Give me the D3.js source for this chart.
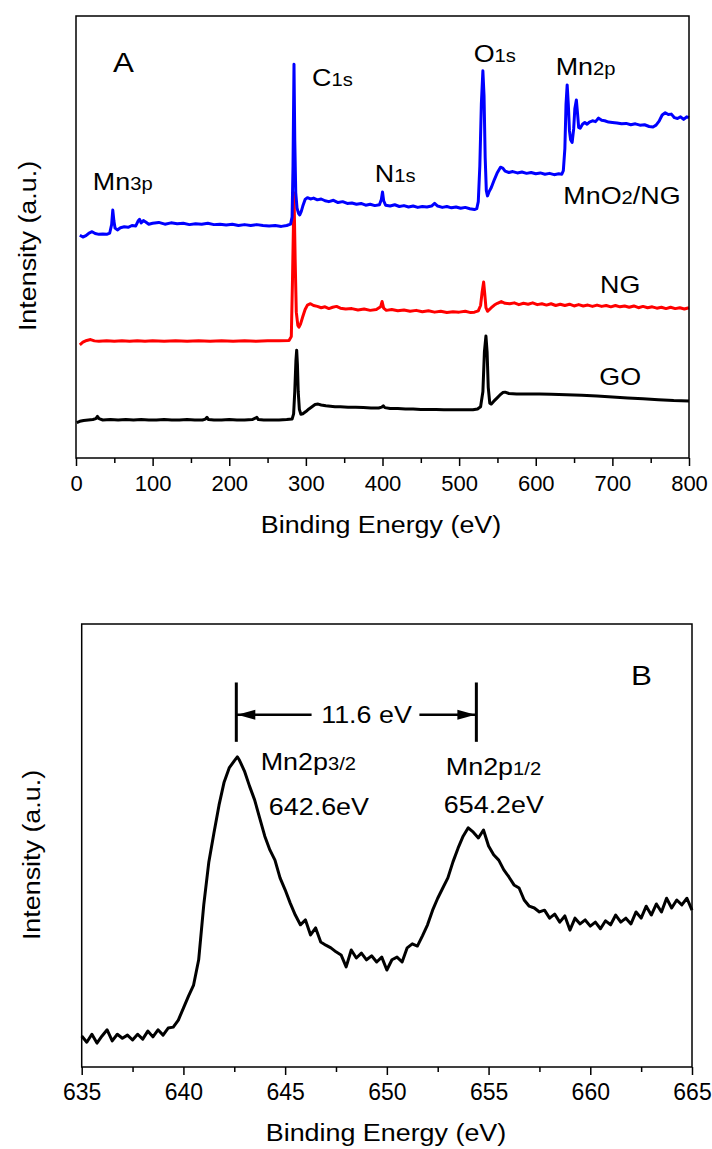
<!DOCTYPE html>
<html>
<head>
<meta charset="utf-8">
<script src="https://cdn.jsdelivr.net/npm/d3@7"></script>
<style>
body { margin: 0; background: #fff; }
text { font-family: "Liberation Sans", Arial, sans-serif; fill: #000; }
</style>
</head>
<body>
<script>
//survey spectra, [binding energy (eV), intensity (a.u.)]
var goSurvey = [[1,8.0],[5,8.3],[10,8.5],[16,8.6],[22,8.7],[26,8.9],[28,9.4],[30,8.9],[35,8.6],[45,8.7],[55,8.6],[65,8.7],[75,8.6],[85,8.7],[95,8.6],[105,8.6],[115,8.7],[125,8.6],[135,8.6],[145,8.7],[155,8.6],[165,8.6],[169,8.8],[171,9.2],[173,8.7],[180,8.6],[190,8.6],[200,8.7],[210,8.6],[220,8.6],[230,8.7],[234,9.0],[236,9.2],[238,8.7],[245,8.6],[255,8.6],[265,8.6],[275,8.7],[282,8.8],[284,10],[285.5,15],[287,22],[288,24.4],[289,21],[290,15],[291.5,11],[293.5,9.9],[296,10.0],[300,10.5],[304,11.1],[308,11.6],[312,12.1],[316,12.2],[320,12.0],[326,11.8],[332,11.7],[338,11.6],[345,11.6],[355,11.5],[365,11.5],[375,11.4],[385,11.3],[395,11.3],[399,11.5],[401,11.8],[403,11.4],[410,11.2],[420,11.2],[430,11.1],[440,11.1],[450,11.0],[460,11.0],[470,11.0],[480,10.9],[490,10.9],[500,10.9],[510,10.9],[518,10.9],[524,11.1],[528,11.6],[531,15],[533,24],[535,27.6],[536.5,24],[538,16],[540,12.4],[542,12.2],[545,12.8],[549,13.5],[553,14.2],[557,14.8],[560,14.9],[565,14.6],[575,14.5],[590,14.5],[605,14.5],[620,14.4],[640,14.3],[660,14.2],[680,14.0],[700,13.8],[720,13.6],[740,13.4],[760,13.2],[780,13.0],[800,12.9]];

var ngSurvey = [[5,25.6],[9,26.2],[14,26.6],[19,26.8],[24,26.5],[30,26.4],[40,26.5],[50,26.4],[60,26.5],[70,26.4],[80,26.5],[90,26.4],[100,26.5],[115,26.4],[130,26.5],[145,26.4],[160,26.5],[175,26.4],[190,26.5],[205,26.4],[220,26.5],[235,26.4],[250,26.5],[265,26.5],[278,26.6],[281,27.5],[282.5,40],[284.5,60],[286,45],[287.5,33],[289.5,30.0],[291,29.6],[293,30.3],[296,32.0],[299,33.6],[302,34.6],[306,34.9],[310,34.5],[315,34.3],[320,34.0],[325,34.2],[330,33.8],[335,34.1],[340,34.3],[345,33.9],[352,33.7],[360,33.8],[368,33.5],[376,33.7],[384,33.4],[392,33.6],[397.5,34.2],[399.5,35.4],[401.5,33.9],[405,33.4],[412,33.6],[420,33.3],[428,33.5],[436,33.2],[444,33.4],[452,33.1],[460,33.3],[468,33.0],[476,33.2],[484,32.9],[492,33.1],[500,33.0],[508,33.2],[515,32.9],[520,33.0],[525,33.3],[528,34.5],[530,37.5],[532,39.8],[533.5,37],[535,34.0],[537,33.2],[539,33.5],[542,34.0],[546,34.6],[550,35.0],[555,35.4],[560,35.0],[566,34.9],[572,35.1],[578,34.7],[584,35.0],[590,34.8],[596,35.1],[602,34.7],[608,34.9],[614,34.6],[620,34.9],[626,34.5],[632,34.8],[638,34.5],[644,34.8],[650,34.4],[656,34.7],[662,34.4],[668,34.6],[674,34.3],[680,34.6],[686,34.3],[692,34.5],[698,34.2],[704,34.5],[710,34.2],[716,34.4],[722,34.1],[728,34.4],[734,34.0],[740,34.3],[746,34.0],[752,34.2],[758,33.9],[764,34.1],[770,33.8],[776,34.1],[782,33.8],[788,34.0],[794,33.7],[800,34.0]];

var mnSurvey = [[5,50.4],[9,50.0],[13,50.3],[17,50.9],[21,51.2],[25,50.8],[30,50.6],[35,50.7],[40,50.6],[44,50.9],[46.5,52.8],[48,56.1],[49.5,53.6],[51,52.0],[54,51.6],[58,52.1],[63,52.3],[68,52.2],[73,52.6],[78,52.5],[81,53.6],[83,54.0],[85,53.2],[88,53.7],[91,53.4],[95,52.9],[100,53.1],[108,53.3],[116,52.9],[124,53.2],[132,53.0],[140,53.1],[148,52.8],[156,53.0],[164,52.9],[172,53.1],[180,52.8],[188,52.9],[196,52.7],[204,52.9],[212,52.6],[220,52.8],[228,52.6],[236,52.8],[244,52.6],[252,52.5],[260,52.6],[268,52.4],[275,52.6],[280,52.9],[282,54.5],[283.2,66],[284.5,89.1],[285.5,72],[286.8,60],[288.5,56.5],[290.5,55.3],[292,55.0],[294,55.8],[296,57.0],[299,58.5],[302,58.9],[306,58.6],[310,58.8],[315,58.4],[320,58.6],[325,58.2],[330,58.0],[336,58.3],[342,57.8],[348,58.0],[354,57.6],[360,57.7],[366,57.4],[372,57.6],[378,57.2],[384,57.4],[390,57.1],[396,57.3],[398.5,58.5],[400,60.2],[401.5,58.2],[404,57.2],[410,57.0],[416,57.3],[422,56.9],[428,57.1],[434,56.8],[440,57.0],[446,56.7],[452,56.9],[458,56.8],[464,57.0],[468,57.6],[472,57.0],[478,56.7],[484,56.9],[490,56.6],[496,56.8],[502,56.5],[508,56.7],[514,56.4],[520,56.2],[523,56.4],[525,58],[527,66],[529,80],[531,87.6],[532.5,82],[534,68],[535.5,60.5],[537,59.3],[539,60.2],[542,61.2],[546,63.0],[550,64.6],[554,65.8],[557,65.6],[560,64.9],[565,64.6],[570,64.8],[576,64.5],[582,64.7],[588,64.4],[594,64.6],[600,64.3],[606,64.5],[612,64.2],[618,64.4],[624,64.1],[630,64.3],[634,64.2],[636,65.0],[638,70],[639.5,80],[641,84.4],[642.5,80],[644,74],[645.5,72],[647.5,71.4],[649.5,74.5],[651,79],[653,81.0],[654.5,78],[656,74.8],[658,74.6],[661,75.5],[664,75.9],[667,75.5],[670,76.0],[674,76.3],[678,76.1],[682,76.9],[686,76.4],[690,76.3],[695,76.0],[700,75.9],[706,75.8],[712,75.6],[718,75.7],[724,75.4],[730,75.6],[736,75.3],[742,75.4],[748,75.0],[753,74.9],[757,75.3],[761,76.2],[765,77.6],[769,78.1],[773,77.7],[777,77.8],[781,77.0],[785,76.8],[789,77.2],[793,76.6],[797,77.2],[800,77.0]];

//high resolution Mn 2p spectrum
var mn2pSpectrum = [[635,7.0],[635.25,5.6],[635.5,7.4],[635.75,5.4],[636,7.0],[636.25,8.4],[636.5,5.9],[636.75,7.4],[637,6.5],[637.25,7.2],[637.5,6.1],[637.75,7.4],[638,6.3],[638.25,8.1],[638.5,6.8],[638.75,8.4],[639,7.2],[639.25,8.8],[639.5,9.0],[639.75,10.6],[640,13.3],[640.25,16.0],[640.5,18.5],[640.75,24.2],[641,36.6],[641.25,46.3],[641.5,52.8],[641.75,59.1],[642,64.3],[642.25,67.5],[642.5,69.1],[642.65,70.0],[642.75,69.3],[643,66.8],[643.25,63.4],[643.5,60.3],[643.75,56.2],[644,52.1],[644.25,49.0],[644.5,46.7],[644.75,42.7],[645,40.0],[645.25,37.0],[645.5,34.3],[645.75,32.1],[646,33.2],[646.25,29.8],[646.5,31.4],[646.75,28.2],[647,27.5],[647.25,26.9],[647.5,26.0],[647.75,25.3],[648,22.6],[648.25,26.4],[648.5,24.6],[648.75,25.7],[649,24.2],[649.25,25.1],[649.5,23.7],[649.75,24.8],[650,21.9],[650.25,24.2],[650.5,24.8],[650.75,23.7],[651,26.9],[651.25,27.8],[651.5,27.3],[651.75,29.6],[652,32.1],[652.25,35.4],[652.5,38.1],[652.75,40.4],[653,42.7],[653.25,46.3],[653.5,49.4],[653.75,52.1],[654,54.0],[654.25,53.0],[654.5,51.7],[654.75,53.5],[655,49.9],[655.25,47.9],[655.5,46.7],[655.75,44.5],[656,42.9],[656.25,41.1],[656.5,40.4],[656.75,37.7],[657,36.3],[657.25,35.9],[657.5,35.0],[657.75,35.4],[658,33.6],[658.25,34.5],[658.5,32.7],[658.75,34.1],[659,30.9],[659.25,33.6],[659.5,32.3],[659.75,33.2],[660,31.8],[660.25,32.7],[660.5,31.2],[660.75,33.0],[661,32.1],[661.25,34.3],[661.5,32.7],[661.75,33.6],[662,32.3],[662.25,35.0],[662.5,33.6],[662.75,36.3],[663,34.3],[663.25,36.8],[663.5,35.0],[663.75,38.1],[664,35.9],[664.25,37.7],[664.5,36.6],[664.75,38.1],[665,35.4]];

var surveyTicks = [0, 100, 200, 300, 400, 500, 600, 700, 800],
    surveyMinor = [50, 150, 250, 350, 450, 550, 650, 750],
    mn2pTicks = [635, 640, 645, 650, 655, 660, 665],
    mn2pMinor = [637.5, 642.5, 647.5, 652.5, 657.5, 662.5];

var peakPositions = [642.6, 654.4];

window.onload = drawChart();

function drawChart() {
    var width = 712,
        height = 1149,
        stretch = 1.12;

    var svg = d3.select("body")
        .append("svg")
        .attr("width", width)
        .attr("height", height);

    //text helper, the original lettering is a bit wider than Arial
    function label(g, x, y, parts, size, anchor, rotate) {
        var t = g.append("text")
            .attr("transform", "translate(" + x + "," + y + ")" + (rotate ? " rotate(-90)" : "") + " scale(" + stretch + ",1)")
            .attr("text-anchor", anchor || "start")
            .style("font-size", size + "px");
        parts.forEach(function(p) {
            t.append("tspan").text(p[0]).style("font-size", (p[1] || size) + "px");
        });
        return t;
    }

    function axes(x, y0, ticks, minor, fontSize) {
        var major = svg.append("g")
            .attr("transform", "translate(0," + y0 + ")")
            .call(d3.axisBottom(x).tickValues(ticks).tickSize(8).tickPadding(9).tickFormat(d3.format("d")));
        major.select(".domain").remove();
        major.attr("font-size", null).attr("font-family", null);
        major.selectAll("line").attr("stroke-width", 1.5);
        major.selectAll("text").style("font-size", fontSize + "px");

        var small = svg.append("g")
            .attr("transform", "translate(0," + y0 + ")")
            .call(d3.axisBottom(x).tickValues(minor).tickSize(5).tickFormat(""));
        small.select(".domain").remove();
        small.selectAll("line").attr("stroke-width", 1.5);
    }

    // ---------- panel A ----------
    var xA = d3.scaleLinear().domain([0, 800]).range([76, 689]),
        yA = d3.scaleLinear().domain([0, 100]).range([458, 16]);

    var lineA = d3.line()
        .x(function(d) { return xA(d[0]); })
        .y(function(d) { return yA(d[1]); });

    var series = [
        { data: goSurvey, color: "#000000" },
        { data: ngSurvey, color: "#ff0000" },
        { data: mnSurvey, color: "#0000ff" }
    ];

    svg.selectAll(".survey")
        .data(series)
        .enter()
        .append("path")
        .attr("class", "survey")
        .attr("d", function(d) { return lineA(d.data); })
        .attr("fill", "none")
        .attr("stroke", function(d) { return d.color; })
        .attr("stroke-width", 3)
        .attr("stroke-linejoin", "round");

    svg.append("rect")
        .attr("x", 76).attr("y", 16)
        .attr("width", 613).attr("height", 442)
        .attr("fill", "none").attr("stroke", "#000").attr("stroke-width", 1.5);

    axes(xA, 458, surveyTicks, surveyMinor, 22);

    var gA = svg.append("g");
    label(gA, xA(48.3), yA(87.3), [["A"]], 28);
    label(gA, xA(308), yA(84.2), [["C", 24], ["1s", 18]], 24);
    label(gA, xA(22), yA(60.6), [["Mn", 24], ["3p", 18]], 24);
    label(gA, xA(390), yA(62.4), [["N", 24], ["1s", 18]], 24);
    label(gA, xA(519), yA(89.6), [["O", 24], ["1s", 18]], 24);
    label(gA, xA(626), yA(86.7), [["Mn", 24], ["2p", 18]], 24);
    label(gA, xA(636), yA(57.5), [["MnO", 24], ["2", 18], ["/NG", 24]], 24);
    label(gA, xA(684), yA(37.3), [["NG"]], 24);
    label(gA, xA(683), yA(16.5), [["GO"]], 24);

    label(gA, 381, 533, [["Binding Energy (eV)"]], 24, "middle");
    label(gA, 36, 246, [["Intensity (a.u.)"]], 24, "middle", true);

    // ---------- panel B ----------
    var xB = d3.scaleLinear().domain([635, 665]).range([81.7, 692]),
        yB = d3.scaleLinear().domain([0, 100]).range([1067, 624]);

    var lineB = d3.line()
        .x(function(d) { return xB(d[0]); })
        .y(function(d) { return yB(d[1]); });

    svg.append("path")
        .datum(mn2pSpectrum)
        .attr("d", lineB)
        .attr("fill", "none")
        .attr("stroke", "#000")
        .attr("stroke-width", 3)
        .attr("stroke-linejoin", "round");

    svg.append("rect")
        .attr("x", 81.7).attr("y", 624)
        .attr("width", 610.3).attr("height", 443)
        .attr("fill", "none").attr("stroke", "#000").attr("stroke-width", 1.5);

    axes(xB, 1067, mn2pTicks, mn2pMinor, 23);

    var gB = svg.append("g");

    //spin-orbit splitting marker
    var xl = xB(peakPositions[0]),
        xr = xB(peakPositions[1]),
        ya = yB(79.5);
    gB.selectAll(".bar")
        .data(peakPositions)
        .enter()
        .append("line")
        .attr("x1", function(d) { return xB(d); })
        .attr("x2", function(d) { return xB(d); })
        .attr("y1", yB(86.8))
        .attr("y2", yB(73.4))
        .attr("stroke", "#000")
        .attr("stroke-width", 3);
    gB.append("line")
        .attr("x1", xl).attr("x2", xB(646.3))
        .attr("y1", ya).attr("y2", ya)
        .attr("stroke", "#000").attr("stroke-width", 2.5);
    gB.append("line")
        .attr("x1", xB(651.6)).attr("x2", xr)
        .attr("y1", ya).attr("y2", ya)
        .attr("stroke", "#000").attr("stroke-width", 2.5);
    gB.append("path")
        .attr("d", "M" + (xl + 1) + "," + ya + "L" + (xl + 19) + "," + (ya - 5) + "L" + (xl + 19) + "," + (ya + 5) + "Z")
        .attr("fill", "#000");
    gB.append("path")
        .attr("d", "M" + (xr - 1) + "," + ya + "L" + (xr - 19) + "," + (ya - 5) + "L" + (xr - 19) + "," + (ya + 5) + "Z")
        .attr("fill", "#000");
    label(gB, xB(649.0), yB(77.7), [["11.6 eV"]], 24, "middle");

    label(gB, xB(662.0), yB(86.2), [["B"]], 28);
    label(gB, xB(643.8), yB(67.0), [["Mn2p", 24], ["3/2", 18]], 24);
    label(gB, xB(644.2), yB(56.9), [["642.6eV"]], 24);
    label(gB, xB(652.9), yB(65.9), [["Mn2p", 24], ["1/2", 18]], 24);
    label(gB, xB(652.8), yB(57.3), [["654.2eV"]], 24);

    label(gB, 386, 1141, [["Binding Energy (eV)"]], 24, "middle");
    label(gB, 40, 855, [["Intensity (a.u.)"]], 24, "middle", true);
}
</script>
</body>
</html>
